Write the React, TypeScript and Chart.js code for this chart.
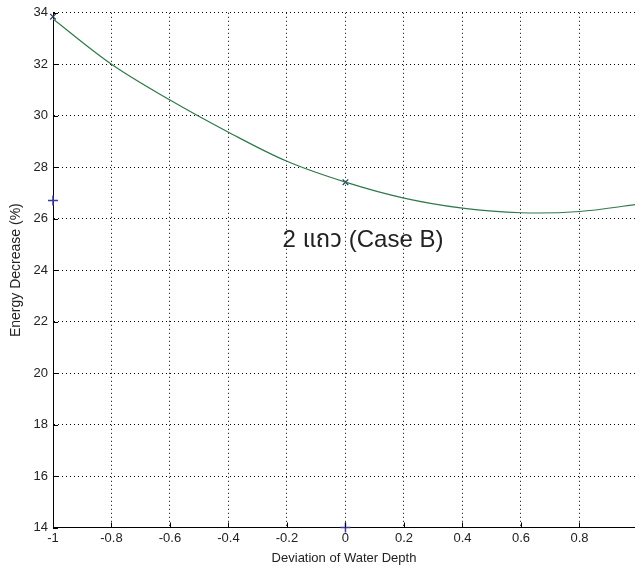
import React, { useEffect, useRef } from 'react';
import { Chart, registerables } from 'chart.js';

Chart.register(...registerables);

// ---- data ----
const depthDeviation = [-1, -0.8, -0.6, -0.4, -0.2, 0, 0.2, 0.4, 0.6, 0.8, 1.0];
const energyDecrease = [33.76, 32.0, 30.61, 29.36, 28.23, 27.42, 26.8, 26.41, 26.23, 26.28, 26.56];
const plusMarkerX = [-1, 0];
const plusMarkerY = [26.71, 14];
const crossMarkerX = [0, -1];
const crossMarkerY = [27.42, 33.85];
const xTickValues = [-1, -0.8, -0.6, -0.4, -0.2, 0, 0.2, 0.4, 0.6, 0.8];
const yTickValues = [14, 16, 18, 20, 22, 24, 26, 28, 30, 32, 34];
const xAxisTitle = 'Deviation of Water Depth';
const yAxisTitle = 'Energy Decrease (%)';
const annotationText = '2 แถว (Case B)';
const annotationX = -0.215;
const annotationY = 25.15;

const FONT = "'Liberation Sans', Arial, 'Noto Sans Thai', 'Loma', 'Garuda', 'Tlwg Typo', sans-serif";

const tickAndTextPlugin = {
  id: 'tickAndText',
  afterDraw(chart: any) {
    const { ctx, chartArea, scales } = chart;
    const xs = scales.x;
    const ys = scales.y;
    ctx.save();
    ctx.strokeStyle = '#000';
    ctx.lineWidth = 1;
    ctx.beginPath();
    for (const v of xTickValues) {
      const px = Math.round(xs.getPixelForValue(v)) + 0.5;
      ctx.moveTo(px, chartArea.bottom);
      ctx.lineTo(px, chartArea.bottom - 5);
    }
    for (const v of yTickValues) {
      const py = Math.round(ys.getPixelForValue(v)) + 0.5;
      ctx.moveTo(chartArea.left, py);
      ctx.lineTo(chartArea.left + 5, py);
    }
    ctx.stroke();
    ctx.fillStyle = '#222';
    ctx.font = `24px ${FONT}`;
    ctx.textAlign = 'left';
    ctx.textBaseline = 'middle';
    ctx.fillText(annotationText, xs.getPixelForValue(annotationX), ys.getPixelForValue(annotationY));
    ctx.restore();
  },
};

export default function App() {
  const ref = useRef<HTMLCanvasElement | null>(null);

  useEffect(() => {
    if (!ref.current) return;
    const chart = new Chart(ref.current, {
      type: 'line',
      data: {
        datasets: [
          {
            label: 'curve',
            data: depthDeviation.map((x, i) => ({ x, y: energyDecrease[i] })),
            borderColor: '#2f7a4a',
            borderWidth: 1.2,
            pointRadius: 0,
            tension: 0.35,
            fill: false,
          },
          {
            label: 'plus',
            type: 'scatter',
            data: plusMarkerX.map((x, i) => ({ x, y: plusMarkerY[i] })),
            pointStyle: 'cross',
            pointRadius: 5,
            borderColor: '#3a3aa0',
            borderWidth: 1.5,
            clip: false,
          } as any,
          {
            label: 'cross',
            type: 'scatter',
            data: crossMarkerX.map((x, i) => ({ x, y: crossMarkerY[i] })),
            pointStyle: 'crossRot',
            pointRadius: 4,
            borderColor: '#2a3a70',
            borderWidth: 1.2,
            clip: false,
          } as any,
        ],
      },
      options: {
        animation: false,
        responsive: false,
        layout: { autoPadding: false, padding: { top: 12, right: 0, left: 0, bottom: 0 } },
        plugins: { legend: { display: false }, tooltip: { enabled: false } },
        scales: {
          x: {
            type: 'linear',
            min: -1,
            max: 0.99,
            afterBuildTicks: (scale: any) => {
              scale.ticks = xTickValues.map((v) => ({ value: v }));
            },
            afterFit: (scale: any) => {
              scale.height = 38.5;
              scale.paddingRight = 0;
              scale.paddingLeft = 0;
            },
            ticks: {
              color: '#222',
              font: { family: FONT, size: 13 },
              padding: 3,
              maxRotation: 0,
              autoSkip: false,
              callback: (v: any) => String(Math.round(Number(v) * 10) / 10),
            },
            grid: { color: '#000', lineWidth: 1, drawTicks: false },
            border: { display: true, color: '#000', width: 1, dash: [1, 3] },
            title: {
              display: true,
              text: xAxisTitle,
              color: '#222',
              font: { family: FONT, size: 13 },
              padding: { top: 2, bottom: 0 },
            },
          },
          y: {
            type: 'linear',
            min: 14,
            max: 34,
            afterBuildTicks: (scale: any) => {
              scale.ticks = yTickValues.map((v) => ({ value: v }));
            },
            afterFit: (scale: any) => {
              scale.width = 53;
            },
            ticks: {
              color: '#222',
              font: { family: FONT, size: 13 },
              padding: 5,
              callback: (v: any) => String(v),
            },
            grid: { color: '#000', lineWidth: 1, drawTicks: false },
            border: { display: true, color: '#000', width: 1, dash: [1, 3] },
            title: {
              display: true,
              text: yAxisTitle,
              color: '#222',
              font: { family: FONT, size: 14 },
              padding: { top: 8, bottom: 2 },
            },
          },
        },
      },
      plugins: [tickAndTextPlugin],
    });
    return () => chart.destroy();
  }, []);

  return (
    <div style={{ position: 'absolute', left: 0, top: 0, width: 635, height: 566, background: '#fff' }}>
      <canvas ref={ref} width={635} height={566} style={{ display: 'block', width: 635, height: 566 }} />
    </div>
  );
}
